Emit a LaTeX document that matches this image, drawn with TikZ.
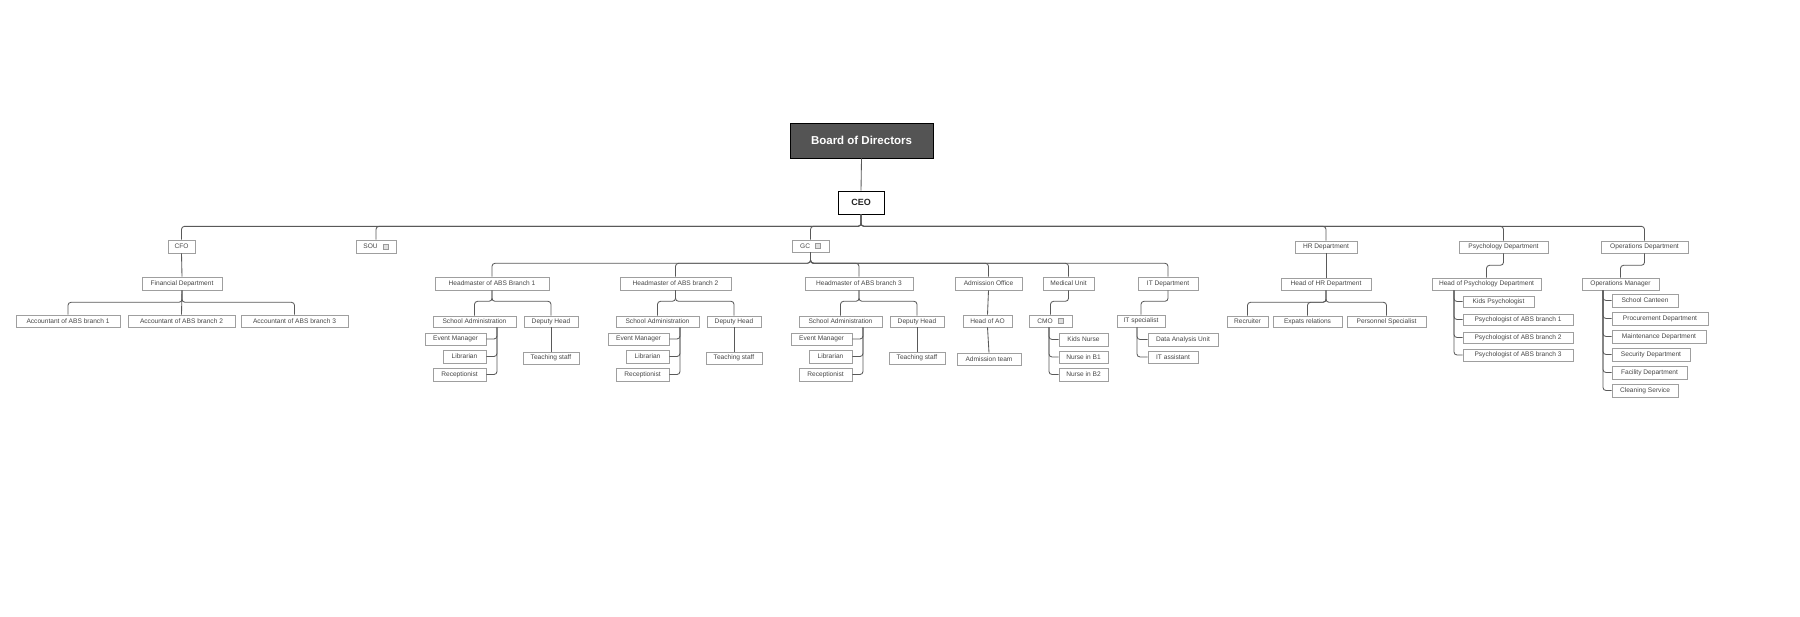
\documentclass[tikz,border=0pt]{standalone}
\usepackage{fontspec}
\setmainfont{Liberation Sans}
\newcommand\ico{{\setlength{\fboxsep}{0pt}\setlength{\fboxrule}{0.4pt}\hspace{5pt}\fcolorbox{gray!80}{gray!25}{\rule{0pt}{5pt}\rule{5pt}{0pt}}}}
\newcommand\mybox[7][sm]{\node[#1,minimum width={(#5)-(#3)},minimum height={(#6)-(#4)}] (#2) at ({((#3)+(#5))/2},{((#4)+(#6))/2}) {#7};}
\begin{document}
\begin{tikzpicture}[x=1pt,y=-1pt,
  sm/.style={draw=gray!75,fill=white,inner sep=0pt,line width=0.6pt,font=\fontsize{6.6}{7}\selectfont,text=gray!55!black},
  ceobox/.style={draw=black,fill=white,inner sep=0pt,line width=0.7pt,font=\fontsize{9}{10}\selectfont\bfseries,text=black!85},
  boardbox/.style={draw=black,fill=black!67,inner sep=0pt,line width=0.7pt,font=\fontsize{11.5}{12}\selectfont\bfseries,text=white},
  conn/.style={draw=gray!70!black,line width=0.85pt,rounded corners=3pt}]
\useasboundingbox (0,0) rectangle (1800,617);
\mybox[boardbox]{board}{790}{123}{933}{158}{Board of Directors}
\mybox[ceobox]{ceo}{838}{191}{884}{214}{CEO}
\mybox{cfo}{168}{240}{195}{253}{CFO}
\mybox{sou}{356}{240}{396}{253}{SOU\ico}
\mybox{gc}{792}{240}{829}{252}{GC\ico}
\mybox{hr}{1295}{241}{1357}{253}{HR Department}
\mybox{psy}{1459}{241}{1548}{253}{Psychology Department}
\mybox{ops}{1601}{241}{1688}{253}{Operations Department}
\draw[conn] (board.south) -- (ceo.north);
\foreach \c in {cfo,sou,gc,hr,psy,ops}
  \draw[conn] (ceo.south) -- ++(0,12) -| (\c.north);
% CFO
\mybox{fin}{142}{277}{222}{290}{Financial Department}
\mybox{acc1}{16}{315}{120}{327}{Accountant of ABS branch 1}
\mybox{acc2}{128}{315}{235}{327}{Accountant of ABS branch 2}
\mybox{acc3}{241}{315}{348}{327}{Accountant of ABS branch 3}
\draw[conn] (cfo.south) -- (fin.north);
\draw[conn] (fin.south) -- (acc2.north);
\foreach \c in {acc1,acc3}
  \draw[conn] (fin.south) -- ++(0,12) -| (\c.north);
% GC
\mybox{hm1}{435}{277}{549}{290}{Headmaster of ABS Branch 1}
\mybox{hm2}{620}{277}{731}{290}{Headmaster of ABS branch 2}
\mybox{hm3}{805}{277}{913}{290}{Headmaster of ABS branch 3}
\mybox{ao}{955}{277}{1022}{290}{Admission Office}
\mybox{mu}{1043}{277}{1094}{290}{Medical Unit}
\mybox{itd}{1138}{277}{1198}{290}{IT Department}
\foreach \c in {hm1,hm2,hm3,ao,mu,itd}
  \draw[conn] (gc.south) -- ++(0,11) -| (\c.north);
\foreach \i/\o in {1/0,2/183,3/366}{
  \mybox{sa\i}{433+\o}{316}{516+\o}{327}{School Administration}
  \mybox{dh\i}{524+\o}{316}{578+\o}{327}{Deputy Head}
  \mybox{em\i}{425+\o}{333}{486+\o}{345}{Event Manager}
  \mybox{lib\i}{443+\o}{350}{486+\o}{363}{Librarian}
  \mybox{rec\i}{433+\o}{368}{486+\o}{381}{Receptionist}
  \mybox{ts\i}{523+\o}{352}{579+\o}{364}{Teaching staff}
  \draw[conn] (hm\i.south) -- ++(0,11) -| (sa\i.north);
  \draw[conn] (hm\i.south) -- ++(0,11) -| (dh\i.north);
  \draw[conn] (dh\i.south) -- (ts\i.north);
  \foreach \c in {em,lib,rec}
    \draw[conn] ([xshift=22.5pt]sa\i.south) |- (\c\i.east);
}
\mybox{hao}{963}{315}{1012}{327}{Head of AO}
\mybox{at}{957}{353}{1021}{365}{Admission team}
\draw[conn] (ao.south) -- (hao.north);
\draw[conn] (hao.south) -- (at.north);
\mybox{cmo}{1029}{315}{1072}{327}{CMO\ico}
\mybox{kn}{1059}{333}{1108}{346}{Kids Nurse}
\mybox{nb1}{1059}{351}{1108}{363}{Nurse in B1}
\mybox{nb2}{1059}{368}{1108}{381}{Nurse in B2}
\draw[conn] (mu.south) -- ++(0,11) -| (cmo.north);
\foreach \c in {kn,nb1,nb2}
  \draw[conn] ([xshift=-1.5pt]cmo.south) |- (\c.west);
\mybox{its}{1117}{315}{1165}{327}{IT specialist}
\mybox{dau}{1148}{333}{1218}{346}{Data Analysis Unit}
\mybox{ita}{1148}{351}{1198}{363}{IT assistant}
\draw[conn] (itd.south) -- ++(0,11) -| (its.north);
\foreach \c in {dau,ita}
  \draw[conn] ([xshift=-4pt]its.south) |- (\c.west);
% HR
\mybox{hhr}{1281}{278}{1371}{290}{Head of HR Department}
\mybox{rcr}{1227}{316}{1268}{327}{Recruiter}
\mybox{exr}{1273}{316}{1342}{327}{Expats relations}
\mybox{prs}{1347}{316}{1426}{327}{Personnel Specialist}
\draw[conn] (hr.south) -- (hhr.north);
\foreach \c in {rcr,exr,prs}
  \draw[conn] (hhr.south) -- ++(0,12) -| (\c.north);
% Psychology
\mybox{hpsy}{1432}{278}{1541}{290}{Head of Psychology Department}
\mybox{kp}{1463}{296}{1534}{307}{Kids Psychologist}
\mybox{p1}{1463}{314}{1573}{325}{Psychologist of ABS branch 1}
\mybox{p2}{1463}{332}{1573}{343}{Psychologist of ABS branch 2}
\mybox{p3}{1463}{349}{1573}{361}{Psychologist of ABS branch 3}
\draw[conn] (psy.south) -- ++(0,12) -| (hpsy.north);
\foreach \c in {kp,p1,p2,p3}
  \draw[conn] ([xshift=-32.5pt]hpsy.south) |- (\c.west);
% Operations
\mybox{om}{1582}{278}{1659}{290}{Operations Manager}
\mybox{sc}{1612}{294}{1678}{307}{School Canteen}
\mybox{pd}{1612}{312}{1708}{325}{Procurement Department}
\mybox{md}{1612}{330}{1706}{343}{Maintenance Department}
\mybox{sd}{1612}{348}{1690}{361}{Security Department}
\mybox{fd}{1612}{366}{1687}{379}{Facility Department}
\mybox{cs}{1612}{384}{1678}{397}{Cleaning Service}
\draw[conn] (ops.south) -- ++(0,12) -| (om.north);
\foreach \c in {sc,pd,md,sd,fd,cs}
  \draw[conn] ([xshift=-17.5pt]om.south) |- (\c.west);
\end{tikzpicture}
\end{document}
